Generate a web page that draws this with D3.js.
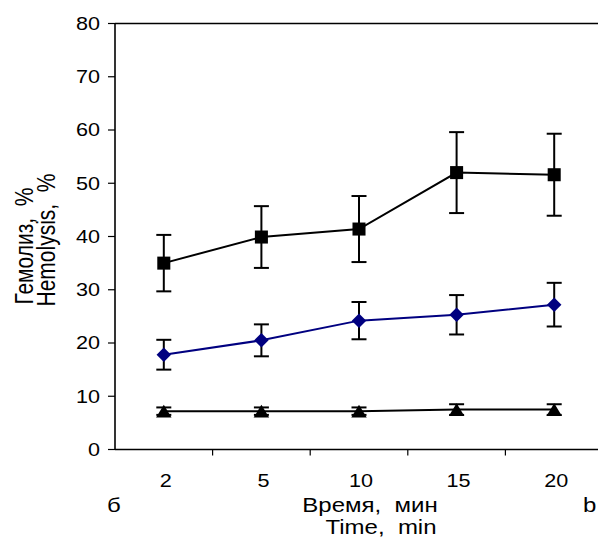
<!DOCTYPE html>
<html>
<head>
<meta charset="utf-8">
<script src="https://cdn.jsdelivr.net/npm/d3@7"></script>
<style>
  html, body { margin: 0; padding: 0; background: #fff; }
  svg { display: block; font-family: Arial, "Liberation Sans", sans-serif; }
</style>
</head>
<body>
<div id="chart"></div>
<script>
// time points (min)
const times = ['2', '5', '10', '15', '20'];
const yTicks = [0, 10, 20, 30, 40, 50, 60, 70, 80];

// hemolysis series, % (mean and error)
const squareVals = [35.0, 39.9, 41.4, 52.0, 51.6];
const squareErr  = [5.3, 5.8, 6.2, 7.6, 7.7];
const diamondVals = [17.8, 20.5, 24.2, 25.3, 27.2];
const diamondErr  = [2.8, 3.0, 3.5, 3.7, 4.1];
const triangleVals = [7.2, 7.2, 7.2, 7.5, 7.5];
const triangleErr  = [0.7, 0.7, 0.7, 1.0, 1.0];

const W = 598, H = 538;
const m = { top: 23.5, right: -5, bottom: 88.5, left: 115 };
const sx = 1.2; // text in the source is stretched horizontally

const svg = d3.select('#chart').append('svg')
    .attr('width', W).attr('height', H);

const x = d3.scaleBand().domain(times).range([m.left, W - m.right]);
const y = d3.scaleLinear().domain([0, 80]).range([H - m.bottom, m.top]);

// top border
svg.append('line')
    .attr('x1', m.left).attr('x2', W)
    .attr('y1', y(80)).attr('y2', y(80))
    .attr('stroke', '#000').attr('stroke-width', 1.6);

// y axis
svg.append('line')
    .attr('x1', m.left).attr('x2', m.left)
    .attr('y1', y(80)).attr('y2', y(0))
    .attr('stroke', '#000').attr('stroke-width', 1.6);
yTicks.forEach(t => {
    svg.append('line')
        .attr('x1', m.left - 7).attr('x2', m.left)
        .attr('y1', y(t)).attr('y2', y(t))
        .attr('stroke', '#000').attr('stroke-width', 1.2);
    svg.append('g')
        .attr('transform', `translate(${m.left - 15},${y(t)}) scale(${sx},1)`)
        .append('text')
        .attr('text-anchor', 'end')
        .attr('dy', '0.36em')
        .attr('font-size', 18)
        .text(t);
});

// x axis
svg.append('line')
    .attr('x1', m.left).attr('x2', W)
    .attr('y1', y(0)).attr('y2', y(0))
    .attr('stroke', '#000').attr('stroke-width', 1.6);
times.forEach((t, i) => {
    const bx = x(t);
    if (i > 0) {
        svg.append('line')
            .attr('x1', bx).attr('x2', bx)
            .attr('y1', y(0)).attr('y2', y(0) + 6)
            .attr('stroke', '#000').attr('stroke-width', 1.2);
    }
    svg.append('g')
        .attr('transform', `translate(${bx + x.bandwidth() / 2 + 2},${y(0) + 37}) scale(${sx},1)`)
        .append('text')
        .attr('text-anchor', 'middle')
        .attr('font-size', 18)
        .text(t);
});

// axis titles
function label(px, py, txt, size, anchor, rot) {
    const g = svg.append('g').attr('transform', `translate(${px},${py}) scale(${sx},1)`);
    g.append('text')
        .attr('text-anchor', anchor)
        .attr('font-size', size)
        .attr('transform', rot ? 'rotate(-90)' : null)
        .style('white-space', 'pre')
        .text(txt);
}
label(370, 511.5, 'Время,  мин', 20, 'middle');
label(381, 534, 'Time,  min', 20, 'middle');
label(107, 511.5, 'б', 20, 'start');
label(583, 511.5, 'b', 20, 'start');
label(33, 246, 'Гемолиз,  %', 21, 'middle', true);
label(55, 240, 'Hemolysis,  %', 21, 'middle', true);

// marker shapes
const diamond = {
    draw(ctx, size) {
        const r = Math.sqrt(size) / 2;
        ctx.moveTo(0, -r); ctx.lineTo(r, 0); ctx.lineTo(0, r); ctx.lineTo(-r, 0); ctx.closePath();
    }
};
const triangle = {
    draw(ctx, size) {
        const w = Math.sqrt(size) / 2, h = w * 0.82;
        ctx.moveTo(0, -h); ctx.lineTo(w, h); ctx.lineTo(-w, h); ctx.closePath();
    }
};

const cx = t => x(t) + x.bandwidth() / 2;
const line = d3.line().x(d => cx(d.t)).y(d => y(d.v));

const series = [
    { vals: squareVals, err: squareErr, color: '#000', shape: d3.symbolSquare, size: 170 },
    { vals: diamondVals, err: diamondErr, color: '#000080', shape: diamond, size: 210 },
    { vals: triangleVals, err: triangleErr, color: '#000', shape: triangle, size: 240 }
];

series.forEach(s => {
    const pts = times.map((t, i) => ({ t, v: s.vals[i], e: s.err[i] }));
    svg.append('path')
        .datum(pts)
        .attr('d', line)
        .attr('fill', 'none')
        .attr('stroke', s.color)
        .attr('stroke-width', 2);

    pts.forEach(p => {
        const px = cx(p.t);
        svg.append('line')
            .attr('x1', px).attr('x2', px)
            .attr('y1', y(p.v + p.e)).attr('y2', y(p.v - p.e))
            .attr('stroke', '#000').attr('stroke-width', 2);
        [p.v + p.e, p.v - p.e].forEach(v => {
            svg.append('line')
                .attr('x1', px - 7.5).attr('x2', px + 7.5)
                .attr('y1', y(v)).attr('y2', y(v))
                .attr('stroke', '#000').attr('stroke-width', 2);
        });
    });

    svg.append('g').selectAll('path')
        .data(pts)
        .join('path')
        .attr('transform', d => `translate(${cx(d.t)},${y(d.v)})`)
        .attr('d', d3.symbol().type(s.shape).size(s.size))
        .attr('fill', s.color);
});
</script>
</body>
</html>
